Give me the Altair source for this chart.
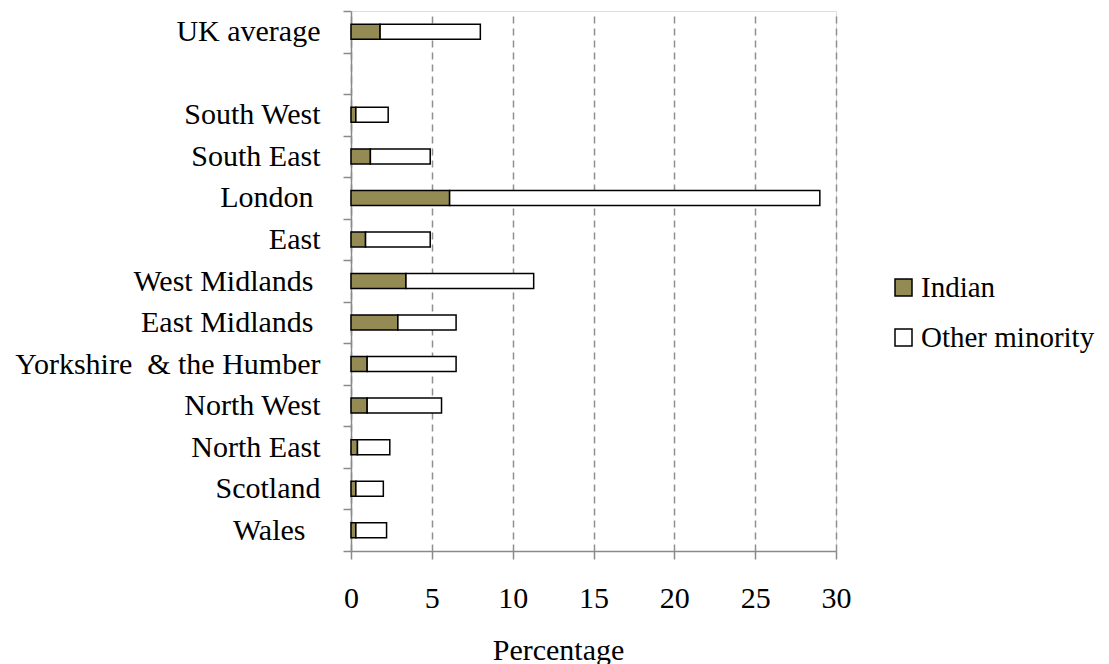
import altair as alt
import pandas as pd

# Share of population by region (%), split into Indian and other minority groups
regions = [
    "UK average", "South West", "South East", "London", "East",
    "West Midlands", "East Midlands", "Yorkshire  & the Humber",
    "North West", "North East", "Scotland", "Wales",
]
indian = [1.8, 0.3, 1.2, 6.1, 0.9, 3.4, 2.9, 1.0, 1.0, 0.4, 0.3, 0.3]
other_minority = [6.2, 2.0, 3.7, 22.9, 4.0, 7.9, 3.6, 5.5, 4.6, 2.0, 1.7, 1.9]

series_names = ["Indian", "Other minority"]
series_colors = ["#948A54", "#FFFFFF"]
x_ticks = [0, 5, 10, 15, 20, 25, 30]

# Row order on the axis, with an empty row separating the UK average
row_order = [regions[0], " "] + regions[1:]

rows = []
for r, a, b in zip(regions, indian, other_minority):
    rows.append({"region": r, "series": series_names[0], "value": a, "k": 0})
    rows.append({"region": r, "series": series_names[1], "value": b, "k": 1})
df = pd.DataFrame(rows)

# SVG collapses runs of spaces, so keep the double space with a non-breaking one
NB = "\u00a0"
label_expr = (
    "datum.label == 'Yorkshire  & the Humber' ? "
    f"'Yorkshire {NB}& the Humber' : datum.label"
)

# A few labels sit slightly further from the axis
label_padding = {
    "condition": [
        {"test": "datum.label == 'Wales'", "value": 38},
        {
            "test": "indexof(['London', 'West Midlands', 'East Midlands'], datum.label) >= 0",
            "value": 30,
        },
    ],
    "value": 23,
}

FONT = "Liberation Serif"

chart = (
    alt.Chart(df)
    .mark_bar(size=15, stroke="black", strokeWidth=1.5)
    .encode(
        y=alt.Y(
            "region:N",
            sort=row_order,
            scale=alt.Scale(domain=row_order, paddingInner=0, paddingOuter=0),
            axis=alt.Axis(
                title=None,
                tickBand="extent",
                tickSize=8,
                tickColor="#8a8a8a",
                domainColor="#8a8a8a",
                domainWidth=1.5,
                tickWidth=1.5,
                labelPadding=label_padding,
                labelFont=FONT,
                labelFontSize=30,
                labelColor="black",
                labelLimit=500,
                labelExpr=label_expr,
                grid=False,
            ),
        ),
        x=alt.X(
            "value:Q",
            stack="zero",
            scale=alt.Scale(domain=[0, 30], nice=False),
            axis=alt.Axis(
                values=x_ticks,
                title="Percentage",
                titleFont=FONT,
                titleFontSize=30,
                titleFontWeight="normal",
                titleColor="black",
                titleX=207,
                titleY=108,
                titleAlign="center",
                titleBaseline="alphabetic",
                tickSize=8,
                tickColor="#8a8a8a",
                tickWidth=1.5,
                domainColor="#8a8a8a",
                domainWidth=1.5,
                labelPadding=24,
                labelFlush=False,
                labelFont=FONT,
                labelFontSize=30,
                labelColor="black",
                grid=True,
                gridDash=[7, 5],
                gridColor="#8f8f8f",
                gridWidth=1.5,
            ),
        ),
        color=alt.Color(
            "series:N",
            scale=alt.Scale(domain=series_names, range=series_colors),
            legend=alt.Legend(
                title=None,
                orient="none",
                legendX=538,
                legendY=262,
                symbolType="square",
                symbolSize=289,
                symbolStrokeColor="black",
                symbolStrokeWidth=1.5,
                labelFont=FONT,
                labelFontSize=29,
                labelColor="black",
                labelOffset=3,
                rowPadding=20,
                labelLimit=400,
            ),
        ),
        order=alt.Order("k:Q"),
    )
    .properties(
        width=485,
        height=540,
        autosize=alt.AutoSizeParams(type="none"),
        padding={"left": 351, "top": 11, "right": 273, "bottom": 113},
    )
    .configure_view(stroke=None)
    .configure(background="white")
)

chart.save("out.html", embed_options={"renderer": "svg", "actions": False})
